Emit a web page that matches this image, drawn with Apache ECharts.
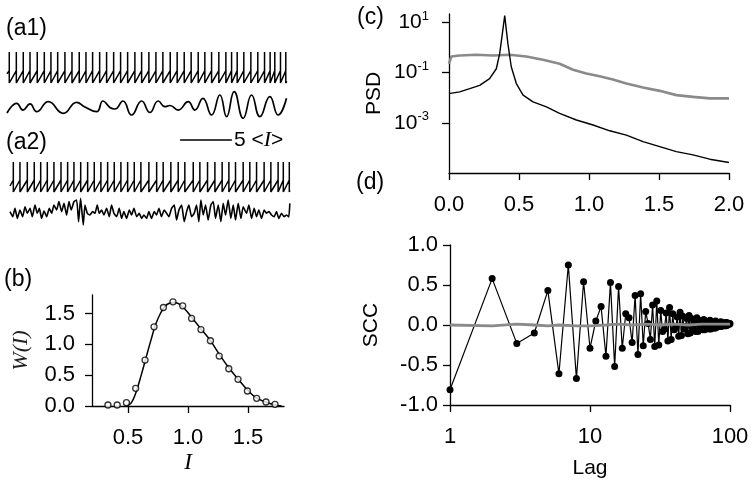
<!DOCTYPE html>
<html><head><meta charset="utf-8">
<script src="https://cdn.jsdelivr.net/npm/echarts@6/dist/echarts.min.js"></script>
<style>html,body{margin:0;padding:0;background:#fff}#c{width:754px;height:486px}</style>
</head><body><div id="c"></div>
<script>
// ---------- (a1)/(a2) traces, time in units of the scale bar ----------
const vReset = 0, vThreshold = 0.4, vPeak = 1;
const a1SpikeTimes = [0.22,0.90,1.57,2.22,2.92,3.60,4.24,4.89,5.59,6.27,6.97,7.62,8.26,8.94,9.61,10.29,10.96,11.64,12.34,12.99,13.69,14.37,15.04,15.75,16.42,17.10,17.77,18.45,19.09,19.74,20.44,21.12,21.67,22.21,22.85,23.53,24.20,24.85,25.39,25.84,26.39,26.90];
const a1Start = [0, 0.3], a1End = [27.0, 0.05];
const a1CurT = [0,0.94,1.54,2.22,2.86,3.98,5.43,6.72,7.52,8.65,9.26,9.93,10.41,11.19,12.02,12.99,13.79,14.59,15.24,15.72,16.52,17.48,18.13,18.9,19.74,20.54,21.19,21.92,22.79,23.6,24.4,25.36,26.16,26.97];
const a1CurV = [-0.75,0.46,-0.38,0.38,-0.59,0.66,-0.79,0.59,0.0,-0.59,0.75,-0.06,-0.25,0.75,-1.0,0.75,-0.69,0.75,0.04,0.19,-0.38,0.66,-0.38,1.09,-1.0,1.5,-1.21,1.91,-1.41,1.5,-1.21,1.29,-1.0,1.09];
const a2SpikeTimes = [0.61,1.25,1.96,2.63,3.25,3.89,4.53,5.21,5.85,6.46,7.11,7.78,8.42,9.06,9.71,10.35,10.99,11.64,12.28,12.92,13.69,14.44,15.07,15.81,16.52,17.16,17.97,18.61,19.35,20.06,20.76,21.41,22.05,22.79,23.43,24.08,24.81,25.46,26.16,26.66,27.24];
const a2Start = [0.29, 0.2], a2End = [27.29, 0.05];
const a2CurT = [0.29,0.55,0.77,1.0,1.25,1.51,1.74,1.96,2.22,2.44,2.70,2.92,3.12,3.34,3.57,3.83,4.08,4.31,4.53,4.79,5.01,5.27,5.50,5.75,5.98,6.20,6.46,6.72,6.91,7.10,7.36,7.52,7.75,8.00,8.26,8.49,8.71,8.90,9.13,9.35,9.61,9.87,10.09,10.32,10.58,10.83,11.06,11.28,11.54,11.80,12.02,12.25,12.51,12.76,12.99,13.21,13.47,13.69,
  13.95,14.21,14.43,14.66,14.9,15.17,15.4,15.62,15.88,16.14,16.36,16.59,16.85,17.1,17.33,17.55,17.81,18.06,18.29,18.51,18.71,18.93,19.16,19.41,19.67,19.9,20.12,20.38,20.64,20.86,21.09,21.34,21.6,21.83,22.05,22.31,22.57,22.79,23.11,23.34,23.6,23.85,24.08,24.3,24.56,24.82,25.04,25.27,25.53,25.78,26.0,26.23,26.49,26.74,26.97,27.19,27.29];
const a2CurV = [0.17,-0.46,0.58,-0.67,0.38,-0.46,0.79,-0.04,0.58,-0.46,1.0,-0.04,0.58,-0.67,0.25,-0.46,0.58,-0.04,1.0,0.38,1.42,0.17,1.21,-0.25,1.42,0.38,1.42,1.63,-1.08,1.83,-1.5,1.0,-0.04,-0.25,0.17,-0.04,1.0,-0.04,0.38,-0.25,0.58,-0.46,1.0,-0.04,-0.46,0.58,-0.67,0.17,-0.67,0.38,-0.25,0.58,-0.46,-0.04,-0.67,-0.25,-0.67,0.17,
  -0.67,0.17,-0.25,0.58,-0.46,0.38,-0.04,-0.46,0.58,1.0,-0.88,0.38,1.0,-1.08,0.17,1.0,-0.46,-0.04,1.0,-1.08,1.63,-0.25,1.0,-0.88,1.0,1.42,-0.67,1.0,-1.08,1.21,-0.25,1.63,-0.67,1.0,-0.88,1.21,-0.67,0.79,-0.04,1.0,-0.67,0.58,-0.46,0.38,-0.67,0.38,-0.04,0.17,-0.25,-0.46,0.17,-0.67,-0.04,-0.46,-0.25,-0.5,1.2];
const scaleBarStart = 16.7, scaleBarLength = 5;

// ---------- (b) ----------
const bX = [0.333,0.41,0.487,0.564,0.642,0.717,0.795,0.875,0.956,1.03,1.108,1.187,1.26,1.34,1.417,1.495,1.572,1.65,1.725];
const bY = [0.016,0.016,0.054,0.286,0.745,1.284,1.597,1.69,1.624,1.42,1.24,1.058,0.81,0.604,0.432,0.243,0.124,0.065,0.027];
const bCurveX = [0.49,0.53,0.57,0.61,0.65,0.69,0.73,0.77,0.81,0.85,0.89,0.93,0.97,1.03,1.1,1.18,1.26,1.34,1.42,1.5,1.57,1.65,1.72,1.78];
const bCurveY = [0.0,0.06,0.24,0.5,0.78,1.06,1.32,1.5,1.62,1.67,1.68,1.65,1.58,1.44,1.27,1.08,0.84,0.62,0.43,0.25,0.13,0.06,0.02,0.0];
const bXTicks = [0.5,1.0,1.5], bYTicks = [0,0.5,1.0,1.5];

// ---------- (c) PSD, log10 values ----------
const psdFBlack = [0,0.076,0.148,0.219,0.29,0.338,0.362,0.381,0.398,0.41,0.421,0.445,0.481,0.529,0.6,0.696,0.79,0.91,1.029,1.148,1.267,1.386,1.505,1.624,1.743,1.862,2.0];
const psdBlackLog10 = [-1.84,-1.77,-1.64,-1.51,-1.24,-0.85,-0.25,0.54,1.27,0.67,0.14,-0.78,-1.44,-1.9,-2.17,-2.37,-2.63,-2.89,-3.09,-3.32,-3.49,-3.75,-3.95,-4.15,-4.28,-4.45,-4.58];
const psdFGray = [0,0.017,0.076,0.195,0.314,0.433,0.552,0.671,0.79,0.886,0.981,1.076,1.171,1.267,1.386,1.505,1.624,1.743,1.862,2.0];
const psdGrayLog10 = [-0.65,-0.36,-0.32,-0.29,-0.32,-0.29,-0.36,-0.49,-0.65,-0.89,-1.04,-1.15,-1.28,-1.44,-1.6,-1.73,-1.9,-1.97,-2.03,-2.03];
const psdYTicks = [-3,-1,1], psdXTicks = [0,0.5,1.0,1.5,2.0];

// ---------- (d) SCC ----------
const sccBlack = [-0.81,0.58,-0.23,-0.10,0.43,-0.61,0.75,-0.67,0.54,-0.29, 0.05,0.23,-0.39,0.53,-0.52,0.48,-0.29,0.14,0.09,-0.22,
  0.37,-0.37,0.39,-0.26,0.17,0.02,-0.18,0.25,-0.27,0.30, -0.25,0.18,-0.08,-0.05,0.15,-0.20,0.22,-0.18,0.14,-0.06,
  -0.03,0.10,-0.14,0.16,-0.13,0.11,-0.05,-0.02,0.08,-0.11, 0.12,-0.10,0.08,-0.04,0.00,0.05,-0.08,0.09,-0.08,0.06,
  -0.03,0.00,0.03,-0.06,0.07,-0.06,0.05,-0.02,0.00,0.03, -0.05,0.06,-0.05,0.04,-0.01,0.01,0.02,-0.04,0.05,-0.03,
  0.03,-0.01,0.01,0.02,-0.02,0.04,-0.02,0.03,0.00,0.01, 0.02,-0.01,0.03,-0.01,0.03,0.00,0.02,0.02,0.01,0.02];
const sccGrayLags = [1,2,3,4,5,6,8,10,13,16,20,25,32,40,50,63,80,100];
const sccGray = [0.0,-0.01,0.01,0.0,-0.01,0.0,-0.01,-0.01,0.0,0.01,0.0,0.01,0.0,0.01,0.0,0.01,0.01,0.01];
const sccYTicks = [-1,-0.5,0,0.5,1];

// ---------- build ----------
function spikeTrace(times, start, end) {
  const pts = [start];
  times.forEach(s => { pts.push([s, vThreshold], [s, vPeak], [s, vReset]); });
  pts.push(end);
  return pts;
}
const zip = (a, b) => a.map((v, i) => [v, b[i]]);
const BLACK = '#000', GRAY = '#8a8a8a';
const FONT = 'Liberation Sans', SERIF = 'Liberation Serif';
const tMax = 27.5;

const hiddenX = i => ({gridIndex: i, type: 'value', min: 0, max: tMax, show: false});
const hiddenY = (i, mn, mx) => ({gridIndex: i, type: 'value', min: mn, max: mx, show: false});
const axLine = {show: true, onZero: false, lineStyle: {color: BLACK, width: 1.3}};
const axTick = (vals) => ({show: true, length: 7, lineStyle: {color: BLACK, width: 1.3}, customValues: vals});
const labelBase = {color: BLACK, fontSize: 22, fontFamily: FONT};
const lineSeries = (xi, data, extra) => Object.assign({
  type: 'line', xAxisIndex: xi, yAxisIndex: xi, data: data, showSymbol: false, symbol: 'none',
  lineStyle: {color: BLACK, width: 1.5}, itemStyle: {color: BLACK}, animation: false, silent: true
}, extra || {});

const option = {
  animation: false,
  textStyle: {fontFamily: FONT},
  grid: [
    {left: 7, top: 52, width: 285, height: 31},
    {left: 7, top: 89, width: 285, height: 32},
    {left: 7, top: 130, width: 285, height: 20},
    {left: 7, top: 162, width: 285, height: 30},
    {left: 7, top: 195, width: 285, height: 35},
    {left: 92, top: 295, width: 192, height: 111},
    {left: 449, top: 14, width: 280, height: 159},
    {left: 450, top: 245, width: 280, height: 160}
  ],
  xAxis: [
    hiddenX(0), hiddenX(1), hiddenX(2), hiddenX(3), hiddenX(4),
    {gridIndex: 5, type: 'value', min: 0.2, max: 1.8, axisLine: axLine, axisTick: axTick(bXTicks), splitLine: {show: false},
     axisLabel: Object.assign({}, labelBase, {margin: 21, customValues: bXTicks, formatter: v => v.toFixed(1)}),
     name: 'I', nameLocation: 'middle', nameGap: 45,
     nameTextStyle: {fontFamily: SERIF, fontStyle: 'italic', fontSize: 23, color: BLACK}},
    {gridIndex: 6, type: 'value', min: 0, max: 2, axisLine: axLine, axisTick: axTick(psdXTicks), splitLine: {show: false},
     axisLabel: Object.assign({}, labelBase, {margin: 21, customValues: psdXTicks, formatter: v => v.toFixed(1)})},
    {gridIndex: 7, type: 'log', logBase: 10, min: 1, max: 100, axisLine: axLine,
     axisTick: {show: true, length: 7, lineStyle: {color: BLACK, width: 1.3}}, minorTick: {show: false}, splitLine: {show: false},
     axisLabel: Object.assign({}, labelBase, {margin: 21}),
     name: 'Lag', nameLocation: 'middle', nameGap: 53, nameTextStyle: {fontSize: 21, color: BLACK}}
  ],
  yAxis: [
    hiddenY(0, 0, 1), hiddenY(1, -1.75, 2.25), hiddenY(2, 0, 1), hiddenY(3, 0, 1), hiddenY(4, -2.125, 2.25),
    {gridIndex: 5, type: 'value', min: 0, max: 1.8, axisLine: axLine, axisTick: axTick(bYTicks), splitLine: {show: false},
     axisLabel: Object.assign({}, labelBase, {margin: 17, customValues: bYTicks, formatter: v => v.toFixed(1)}),
     name: 'W(I)', nameLocation: 'middle', nameGap: 60, nameRotate: 90,
     nameTextStyle: {fontFamily: SERIF, fontStyle: 'italic', fontSize: 22, color: '#222'}},
    {gridIndex: 6, type: 'value', min: -5, max: 1.33, axisLine: axLine, axisTick: axTick(psdYTicks), splitLine: {show: false},
     axisLabel: Object.assign({}, labelBase, {margin: 20, customValues: psdYTicks,
       formatter: v => '{b|10}{s|' + v + '}',
       rich: {b: {fontSize: 21, fontFamily: FONT, color: BLACK}, s: {fontSize: 13, fontFamily: FONT, color: BLACK, padding: [0, 0, 12, 0]}}}),
     name: 'PSD', nameLocation: 'middle', nameGap: 64, nameRotate: 90, nameTextStyle: {fontSize: 21, color: BLACK}},
    {gridIndex: 7, type: 'value', min: -1, max: 1, axisLine: axLine, axisTick: axTick(sccYTicks), splitLine: {show: false},
     axisLabel: Object.assign({}, labelBase, {margin: 12, customValues: sccYTicks, formatter: v => v.toFixed(1)}),
     name: 'SCC', nameLocation: 'middle', nameGap: 68, nameRotate: 90, nameTextStyle: {fontSize: 21, color: BLACK}}
  ],
  series: [
    lineSeries(0, spikeTrace(a1SpikeTimes, a1Start, a1End)),
    lineSeries(1, zip(a1CurT, a1CurV), {smooth: 0.5, lineStyle: {color: BLACK, width: 1.7}}),
    lineSeries(2, [[scaleBarStart, 0.5], [scaleBarStart + scaleBarLength, 0.5]], {lineStyle: {color: BLACK, width: 1.6}}),
    lineSeries(3, spikeTrace(a2SpikeTimes, a2Start, a2End)),
    lineSeries(4, zip(a2CurT, a2CurV), {smooth: 0.15, lineStyle: {color: BLACK, width: 1.6}}),
    lineSeries(5, zip(bCurveX, bCurveY), {smooth: 0.4, lineStyle: {color: BLACK, width: 1.5}}),
    {type: 'scatter', xAxisIndex: 5, yAxisIndex: 5, data: zip(bX, bY), symbol: 'circle', symbolSize: 6,
     itemStyle: {color: '#fff', borderColor: BLACK, borderWidth: 1.3}, z: 5, silent: true},
    lineSeries(6, zip(psdFGray, psdGrayLog10), {lineStyle: {color: GRAY, width: 2.6}}),
    lineSeries(6, zip(psdFBlack, psdBlackLog10), {lineStyle: {color: BLACK, width: 1.4}}),
    lineSeries(7, sccBlack.map((v, i) => [i + 1, v]), {showSymbol: true, symbol: 'circle', symbolSize: 7,
      lineStyle: {color: BLACK, width: 1.2}, itemStyle: {color: BLACK}}),
    lineSeries(7, zip(sccGrayLags, sccGray), {lineStyle: {color: GRAY, width: 2.8}, z: 4})
  ],
  graphic: [
    {type: 'text', left: 6, top: 17, style: {text: '(a1)', fontSize: 23, fontFamily: FONT, fill: BLACK}},
    {type: 'text', left: 6, top: 131, style: {text: '(a2)', fontSize: 23, fontFamily: FONT, fill: BLACK}},
    {type: 'text', left: 4, top: 268, style: {text: '(b)', fontSize: 23, fontFamily: FONT, fill: BLACK}},
    {type: 'text', left: 357, top: 6, style: {text: '(c)', fontSize: 23, fontFamily: FONT, fill: BLACK}},
    {type: 'text', left: 356, top: 171, style: {text: '(d)', fontSize: 23, fontFamily: FONT, fill: BLACK}},
    {type: 'text', left: 234, top: 129, style: {
      text: '{n|5 }{b|<}{i|I}{b|>}',
      rich: {n: {fontSize: 21, fontFamily: FONT, fill: BLACK}, b: {fontSize: 21, fontFamily: FONT, fill: BLACK},
             i: {fontSize: 22, fontFamily: SERIF, fontStyle: 'italic', fill: BLACK}}}}
  ]
};
echarts.init(document.getElementById('c'), null, {renderer: 'canvas'}).setOption(option);
</script></body></html>
